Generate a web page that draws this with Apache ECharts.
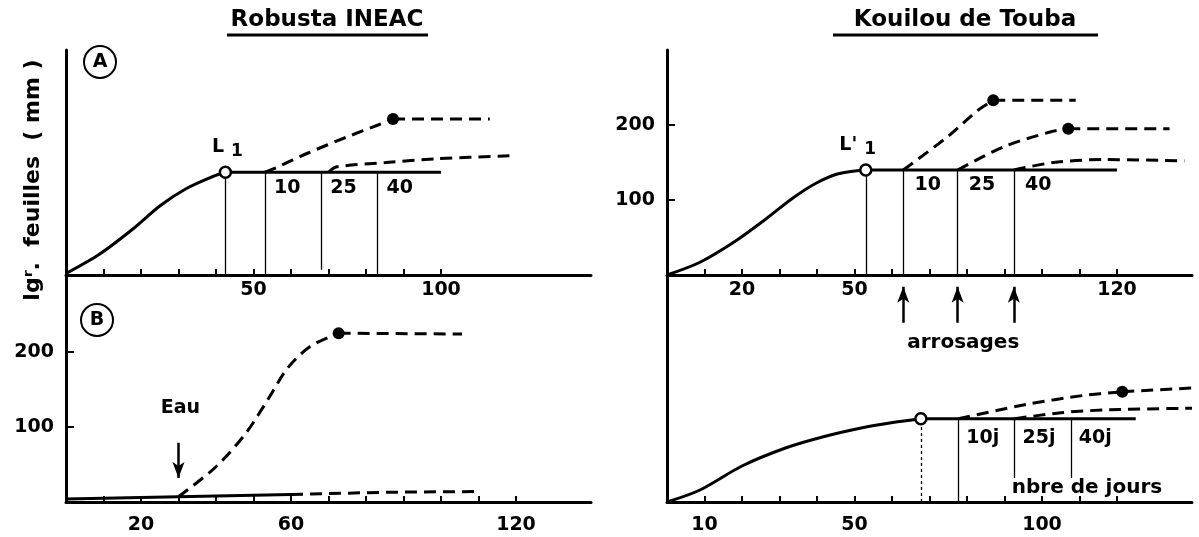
<!DOCTYPE html>
<html>
<head>
<meta charset="utf-8">
<title>Robusta INEAC / Kouilou de Touba</title>
<script src="https://cdn.jsdelivr.net/npm/echarts@6/dist/echarts.min.js"></script>
<style>
  html, body { margin: 0; padding: 0; background: #fff; }
  #chart { width: 1199px; height: 537px; }
</style>
</head>
<body>
<div id="chart"></div>
<script>
// ticks and tick labels (days)
var ticksShort = [10, 20, 30, 40, 50, 60, 70, 80, 90, 100];
var ticksLong = [10, 20, 30, 40, 50, 60, 70, 80, 90, 100, 110, 120];
var labelsTL = [50, 100];
var labelsTR = [20, 50, 120];
var labelsBL = [20, 60, 120];
var labelsBR = [10, 50, 100];
var yLabels = [100, 200];

// Robusta INEAC - A
var robA_growth = [[0, 2], [9, 28], [18, 62], [25, 92], [32, 115], [39, 131], [42.5, 137]];
var robA_plateau = [[42.5, 137], [100, 137]];
var robA_L1 = [42.5, 137];
var robA_drops = [53, 68, 83];
var robA_dash10 = [[53, 137], [56, 143], [64.7, 163], [74.9, 184], [83.2, 200], [87.2, 208]];
var robA_dash10_end = [[87.2, 208], [113, 208]];
var robA_dash25 = [[70, 137], [72, 144], [85.3, 150], [98.7, 155], [119, 159]];
var robA_dots = [[87.2, 208]];

// Robusta INEAC - B
var robB_base = [[0, 4], [30, 7], [60, 10]];
var robB_baseDash = [[60, 10], [85, 13], [110, 14]];
var robB_water = [[30, 7], [40, 47], [48, 92], [54, 138], [59, 178], [65, 207], [72.7, 225]];
var robB_water_end = [[72.7, 225], [105.6, 224]];
var robB_dots = [[72.7, 225]];
var robB_eau = [30, 79, 32];

// Kouilou de Touba - top
var kouT_growth = [[0, 0], [8.8, 17], [18.2, 45], [26.2, 74], [33.4, 102], [39.6, 122], [45.7, 135], [53, 140]];
var kouT_plateau = [[53, 140], [120, 140]];
var kouT_L1 = [53, 140];
var kouT_drops = [63, 77.5, 92.5];
var kouT_dash10 = [[63, 140], [75, 185], [83, 220], [87, 233]];
var kouT_dash10_end = [[87, 233], [109, 233]];
var kouT_dash25 = [[77.5, 140], [89.8, 171], [102.4, 191], [107, 195]];
var kouT_dash25_end = [[107, 195], [134, 195]];
var kouT_dash40 = [[92.5, 140], [103, 150], [116.6, 154], [138, 152]];
var kouT_dots = [[87, 233], [107, 195]];

// Kouilou de Touba - bottom
var kouB_growth = [[0, 0], [8.8, 16], [20, 48], [31.6, 72], [41.7, 87], [52.1, 99], [60.2, 106], [67.7, 111]];
var kouB_plateau = [[67.7, 111], [125, 111]];
var kouB_L = [67.7, 111];
var kouB_drops = [77.7, 92.7, 107.7];
var kouB_dash10 = [[77.7, 111], [95.7, 130], [111, 142], [121.4, 147]];
var kouB_dash10_end = [[121.4, 147], [140, 152]];
var kouB_dash25 = [[92.7, 111], [105, 119], [118, 123], [140, 125]];
var kouB_dots = [[121.4, 147]];
var arrosages = [63, 77.5, 92.5];

var dayNames = ['10', '25', '40'];
var dayNamesJ = ['10j', '25j', '40j'];

var FONT = '"DejaVu Sans", sans-serif';
var INK = '#000';

function xAxisFor(grid, ticks, labels, margin) {
	return {
		type: 'value', gridIndex: grid, min: 0, max: 140,
		axisLine: { lineStyle: { color: INK, width: 3 } },
		axisTick: { show: true, inside: true, length: 6, customValues: ticks, lineStyle: { color: INK, width: 2 } },
		axisLabel: { customValues: labels, margin: margin, color: INK, fontSize: 19, fontWeight: 'bold', fontFamily: FONT },
		splitLine: { show: false }
	};
}
function yAxisFor(grid, labels) {
	return {
		type: 'value', gridIndex: grid, min: 0, max: 300,
		axisLine: { show: true, lineStyle: { color: INK, width: 3 } },
		axisTick: { show: labels.length > 0, inside: true, length: 8, customValues: labels, lineStyle: { color: INK, width: 2 } },
		axisLabel: { show: labels.length > 0, customValues: labels, margin: 12, color: INK, fontSize: 19, fontWeight: 'bold', fontFamily: FONT },
		splitLine: { show: false }
	};
}

function curve(g, data, dashed, smooth) {
	return {
		type: 'line', xAxisIndex: g, yAxisIndex: g, data: data, showSymbol: false, silent: true,
		smooth: smooth || false,
		lineStyle: { color: INK, width: 3, type: dashed ? [12, 7] : 'solid' }
	};
}
function drops(g, xs, top, bottom) {
	return xs.map(function (x, i) {
		return [{ coord: [x, bottom ? bottom[i] : 0] }, { coord: [x, top] }];
	});
}
function plateau(g, data, xs, top, bottoms) {
	var s = curve(g, data, false);
	s.markLine = {
		silent: true, symbol: 'none', label: { show: false }, animation: false,
		lineStyle: { color: INK, width: 1.3, type: 'solid' },
		data: drops(g, xs, top, bottoms)
	};
	return s;
}
function dots(g, data) {
	return {
		type: 'scatter', xAxisIndex: g, yAxisIndex: g, data: data, symbolSize: 12, silent: true,
		itemStyle: { color: INK, opacity: 1 }, z: 5
	};
}
function openDot(g, pt, labelRich, offset) {
	return {
		type: 'scatter', xAxisIndex: g, yAxisIndex: g, silent: true, z: 6,
		data: [pt], symbolSize: 11,
		itemStyle: { color: '#fff', borderColor: INK, borderWidth: 2.5, opacity: 1 },
		label: labelRich ? {
			show: true, position: 'top', distance: 5, offset: offset,
			formatter: labelRich, color: INK, fontFamily: FONT,
			rich: {
				l: { fontSize: 19, fontWeight: 'bold', fontFamily: FONT, color: INK },
				s: { fontSize: 17, fontWeight: 'bold', fontFamily: FONT, color: INK, padding: [10, 0, 0, 7] }
			}
		} : { show: false }
	};
}
function texts(g, items, size) {
	return {
		type: 'scatter', xAxisIndex: g, yAxisIndex: g, silent: true, symbolSize: 0,
		itemStyle: { opacity: 1 },
		data: items.map(function (it) { return { name: it[2], value: [it[0], it[1]] }; }),
		label: { show: true, position: 'inside', formatter: '{b}', color: INK, fontSize: size || 19, fontWeight: 'bold', fontFamily: FONT }
	};
}
function arrows(g, list) {
	return {
		type: 'line', xAxisIndex: g, yAxisIndex: g, data: [], silent: true,
		markLine: {
			silent: true, symbol: ['none', 'arrow'], symbolSize: [9, 16], label: { show: false }, animation: false,
			lineStyle: { color: INK, width: 2.5, type: 'solid' },
			data: list.map(function (a) { return [{ coord: [a[0], a[1]] }, { coord: [a[0], a[2]] }]; })
		}
	};
}

var option = {
	animation: false,
	backgroundColor: '#fff',
	grid: [
		{ left: 66, top: 50, width: 525, height: 225 },
		{ left: 66, top: 277, width: 525, height: 225 },
		{ left: 667, top: 50, width: 525, height: 225 },
		{ left: 667, top: 277, width: 525, height: 225 }
	],
	xAxis: [
		xAxisFor(0, ticksShort, labelsTL, 6),
		xAxisFor(1, ticksLong, labelsBL, 14),
		xAxisFor(2, ticksLong, labelsTR, 6),
		xAxisFor(3, ticksLong, labelsBR, 14)
	],
	yAxis: [
		yAxisFor(0, []),
		yAxisFor(1, yLabels),
		yAxisFor(2, yLabels),
		yAxisFor(3, [])
	],
	graphic: [
		{ type: 'text', x: 327, y: 20, style: { text: 'Robusta INEAC', font: 'bold 23px ' + FONT, fill: INK, align: 'center', verticalAlign: 'middle' } },
		{ type: 'line', shape: { x1: 227, y1: 35, x2: 428, y2: 35 }, style: { stroke: INK, lineWidth: 3 } },
		{ type: 'text', x: 965, y: 20, style: { text: 'Kouilou de Touba', font: 'bold 23px ' + FONT, fill: INK, align: 'center', verticalAlign: 'middle' } },
		{ type: 'line', shape: { x1: 833, y1: 35, x2: 1098, y2: 35 }, style: { stroke: INK, lineWidth: 3 } },
		{ type: 'circle', shape: { cx: 100, cy: 62, r: 16 }, style: { fill: 'none', stroke: INK, lineWidth: 2 } },
		{ type: 'text', x: 100, y: 62, style: { text: 'A', font: 'bold 19px ' + FONT, fill: INK, align: 'center', verticalAlign: 'middle' } },
		{ type: 'circle', shape: { cx: 97, cy: 320, r: 16 }, style: { fill: 'none', stroke: INK, lineWidth: 2 } },
		{ type: 'text', x: 97, y: 320, style: { text: 'B', font: 'bold 19px ' + FONT, fill: INK, align: 'center', verticalAlign: 'middle' } },
		{ type: 'text', x: 33, y: 180, rotation: Math.PI / 2, style: { text: 'lgʳ.  feuilles  ( mm )', font: 'bold 22px ' + FONT, fill: INK, align: 'center', verticalAlign: 'middle' } }
	],
	series: [
		// A
		curve(0, robA_growth, false, 0.3),
		plateau(0, robA_plateau, [robA_L1[0]].concat(robA_drops), robA_L1[1], [0, 0, 7, 0]),
		curve(0, robA_dash10, true, 0.3),
		curve(0, robA_dash10_end, true),
		curve(0, robA_dash25, true, 0.3),
		dots(0, robA_dots),
		openDot(0, robA_L1, '{l|L}{s|1}', [2, 0]),
		texts(0, robA_drops.map(function (x, i) { return [x + 6, 116, dayNames[i]]; })),
		// B
		curve(1, robB_base, false),
		curve(1, robB_baseDash, true),
		curve(1, robB_water, true, 0.3),
		curve(1, robB_water_end, true),
		dots(1, robB_dots),
		arrows(1, [robB_eau]),
		texts(1, [[robB_eau[0] + 0.5, 125, 'Eau']]),
		// Kouilou top
		curve(2, kouT_growth, false, 0.3),
		plateau(2, kouT_plateau, [kouT_L1[0]].concat(kouT_drops), kouT_L1[1]),
		curve(2, kouT_dash10, true, 0.3),
		curve(2, kouT_dash10_end, true),
		curve(2, kouT_dash25, true, 0.3),
		curve(2, kouT_dash25_end, true),
		curve(2, kouT_dash40, true, 0.3),
		dots(2, kouT_dots),
		openDot(2, kouT_L1, "{l|L'}{s|1}", [-8, 0]),
		texts(2, kouT_drops.map(function (x, i) { return [x + 6.5, 120, dayNames[i]]; })),
		// Kouilou bottom
		curve(3, kouB_growth, false, 0.3),
		plateau(3, kouB_plateau, kouB_drops, kouB_L[1], [0, 32, 32]),
		{
			type: 'line', xAxisIndex: 3, yAxisIndex: 3, data: [], silent: true,
			markLine: {
				silent: true, symbol: 'none', label: { show: false }, animation: false,
				lineStyle: { color: INK, width: 1.3, type: [3, 3] },
				data: [[{ coord: [kouB_L[0], 0] }, { coord: [kouB_L[0], kouB_L[1]] }]]
			}
		},
		curve(3, kouB_dash10, true, 0.3),
		curve(3, kouB_dash10_end, true),
		curve(3, kouB_dash25, true, 0.3),
		dots(3, kouB_dots),
		openDot(3, kouB_L, null),
		texts(3, kouB_drops.map(function (x, i) { return [x + 6.5, 85, dayNamesJ[i]]; })),
		texts(3, [[112, 19, 'nbre de jours']], 20),
		arrows(3, arrosages.map(function (x) { return [x, 239, 287]; })),
		texts(3, [[79, 212, 'arrosages']], 20)
	]
};

var chart = echarts.init(document.getElementById('chart'));
chart.setOption(option);
</script>
</body>
</html>
